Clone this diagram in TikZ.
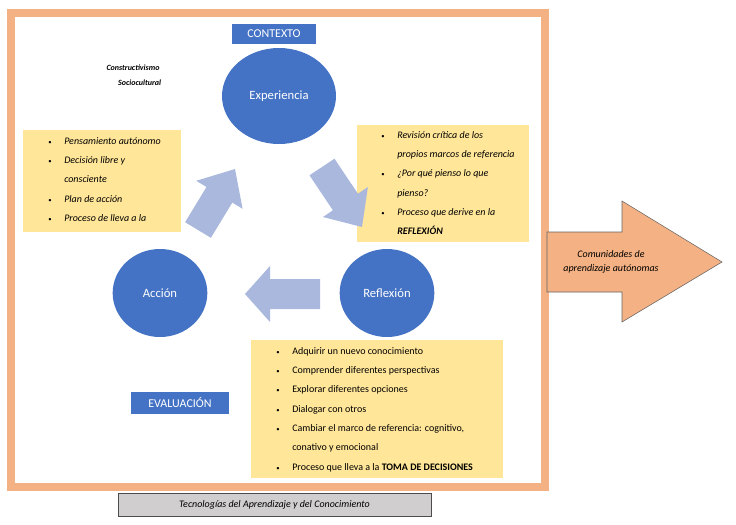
\documentclass[tikz,border=0pt]{standalone}
\usepackage{fontspec}
\setmainfont{Carlito}
\usetikzlibrary{shapes.geometric}
\definecolor{frameo}{HTML}{F4B183}
\definecolor{bblue}{HTML}{4472C4}
\definecolor{yel}{HTML}{FFE699}
\definecolor{larr}{HTML}{A9B8DC}
\definecolor{gbox}{HTML}{D0CECE}
\newcommand{\bl}{\makebox[12pt][l]{\upshape\tiny\textbullet}}
\newcommand{\ct}{\hspace*{12pt}}
\tikzset{
 circ/.style={ellipse,fill=bblue,text=white,font=\fontsize{9.5}{11}\selectfont},
 lab/.style={fill=bblue,text=white,inner sep=0pt,font=\fontsize{9}{11}\selectfont},
 btxt/.style={anchor=north west,align=left,font=\fontsize{7.5}{14.5}\selectfont\itshape,inner sep=0pt},
}
\begin{document}
\begin{tikzpicture}[x=0.75pt,y=-0.75pt]
\useasboundingbox (0,0) rectangle (736,525);
\draw[frameo,line width=6pt] (11,13) rectangle (545,487);
\fill[yel] (23,130) rectangle (181,232);
\fill[yel] (357,125) rectangle (529,242);
\fill[yel] (251,340) rectangle (503,478);
\node[lab,text width=63pt,align=center,minimum height=15pt] (ctx) at (274,34) {CONTEXTO};
\node[lab,text width=73pt,align=center,minimum height=16pt] (eva) at (180,403) {EVALUACIÓN};
\node[font=\fontsize{6}{8}\selectfont\bfseries\itshape,align=center] (cons) at (133,75) {Constructivismo\\[3pt]\hspace*{10pt}Sociocultural};
\node[circ,minimum width=85.5pt,minimum height=72pt] (exp) at (279,96) {Experiencia};
\node[circ,minimum width=71pt,minimum height=66pt] (acc) at (160,293) {Acción};
\node[circ,minimum width=71pt,minimum height=66pt] (ref) at (387,293) {Reflexión};
\fill[larr] (185.1,222.2)--(206.5,187)--(196.2,180.8)--(235,169)--(242.6,208.8)--(232.3,202.6)--(210.9,237.8)--cycle;
\fill[larr] (309.5,175.3)--(334.5,158.7)--(357.9,193.7)--(367.9,187)--(362,227)--(322.9,217)--(332.9,210.3)--cycle;
\fill[larr] (320,279)--(270,279)--(270,266)--(245,294)--(270,322)--(270,309)--(320,309)--cycle;
\node[btxt] (lt) at (48,137) {\bl Pensamiento autónomo\\
\bl Decisión libre y\\
\ct consciente\\
\bl Plan de acción\\
\bl Proceso de lleva a la};
\node[btxt] (rt) at (381,131) {\bl Revisión crítica de los\\
\ct propios marcos de referencia\\
\bl ¿Por qué pienso lo que\\
\ct pienso?\\
\bl Proceso que derive en la\\
\ct\textbf{REFLEXIÓN}};
\node[btxt,font=\fontsize{7.5}{14.5}\selectfont] (bt) at (276,347) {\bl Adquirir un nuevo conocimiento\\
\bl Comprender diferentes perspectivas\\
\bl Explorar diferentes opciones\\
\bl Dialogar con otros\\
\bl Cambiar el marco de referencia: cognitivo,\\
\ct conativo y emocional\\
\bl Proceso que lleva a la \textbf{TOMA DE DECISIONES}};
\draw[fill=frameo,draw=black!60,line width=0.4pt] (547,232)--(622,232)--(622,201)--(722,262)--(622,322)--(622,292)--(547,292)--cycle;
\node[font=\fontsize{7.5}{11}\selectfont\itshape,align=center] (com) at (611,262) {Comunidades de\\aprendizaje autónomas};
\node[draw=black!70,fill=gbox,minimum width=234.75pt,minimum height=17.25pt,inner sep=0pt,font=\fontsize{7.5}{9}\selectfont\itshape] (tac) at (274.5,505) {Tecnologías del Aprendizaje y del Conocimiento};
\end{tikzpicture}
\end{document}
